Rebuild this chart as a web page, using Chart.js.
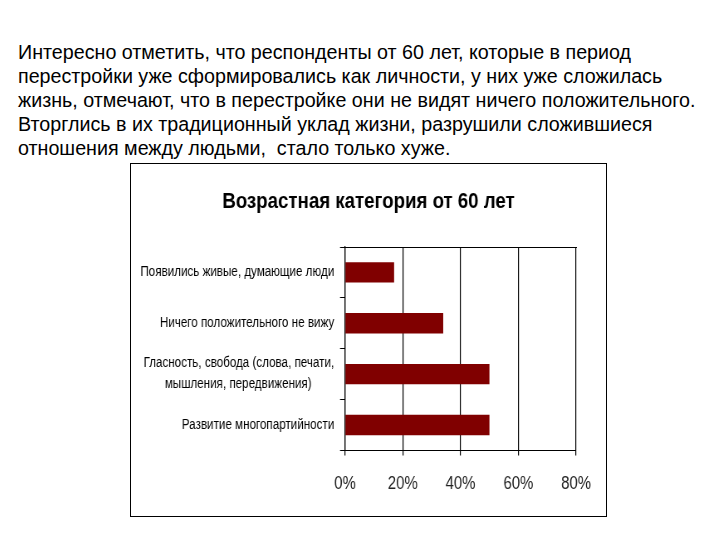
<!DOCTYPE html>
<html>
<head>
<meta charset="utf-8">
<script src="https://cdn.jsdelivr.net/npm/chart.js@4/dist/chart.umd.min.js"></script>
<style>
  html, body { margin: 0; padding: 0; background: #fff; width: 720px; height: 540px; overflow: hidden; }
  #para { position: absolute; left: 18px; top: 40px; width: 702px; font-family: "Liberation Sans", Arial, sans-serif; font-size: 19.7px; line-height: 24px; color: #000; white-space: pre; }
  #box { position: absolute; left: 130px; top: 163px; width: 475px; height: 352px; border: 1px solid #000; overflow: hidden; }
  #c { display: block; transform-origin: 0 0; transform: scaleX(0.8304); }
</style>
</head>
<body>
<div id="para">Интересно отметить, что респонденты от 60 лет, которые в период
перестройки уже сформировались как личности, у них уже сложилась
жизнь, отмечают, что в перестройке они не видят ничего положительного.
Вторглись в их традиционный уклад жизни, разрушили сложившиеся
отношения между людьми,  стало только хуже.</div>
<div id="box"><canvas id="c" width="572" height="352"></canvas></div>
<script>
const chartTitle = 'Возрастная категория от 60 лет';
const categories = [
  'Появились живые, думающие люди',
  'Ничего положительного не вижу',
  ['Гласность, свобода (слова, печати,', 'мышления, передвижения)'],
  'Развитие многопартийности'
];
const values = [17, 34, 50, 50];
const xTicks = [0, 20, 40, 60, 80];

const FONT = '"Liberation Sans", Arial, sans-serif';
const SX = 0.8304;           // horizontal compression of the chart picture
const VW = 1 / SX;           // line width that renders as 1px after compression

// centre the lines of a multi-line label under right alignment (pad with NBSP)
const measureCtx = document.createElement('canvas').getContext('2d');
measureCtx.font = '14px ' + FONT;
function centreLines(lines) {
  const widths = lines.map(l => measureCtx.measureText(l).width);
  const maxW = Math.max(...widths);
  const sp = measureCtx.measureText('\u00A0').width;
  return lines.map((l, i) => l + '\u00A0'.repeat(Math.round((maxW - widths[i]) / 2 / sp)));
}

new Chart(document.getElementById('c'), {
  type: 'bar',
  data: {
    labels: categories,
    datasets: [{
      data: values,
      backgroundColor: '#800000',
      borderWidth: 0,
      barPercentage: 0.4,
      categoryPercentage: 1.0
    }]
  },
  options: {
    indexAxis: 'y',
    responsive: false,
    animation: false,
    layout: { padding: { left: 0, right: 0, top: 0, bottom: 3 } },
    plugins: {
      legend: { display: false },
      tooltip: { enabled: false },
      title: {
        display: true,
        text: chartTitle,
        color: '#000',
        font: { family: FONT, size: 22.5, weight: 'bold' },
        padding: { top: 24, bottom: 32 }
      }
    },
    scales: {
      x: {
        type: 'linear',
        position: 'bottom',
        min: xTicks[0],
        max: xTicks[xTicks.length - 1],
        afterBuildTicks: (s) => { s.ticks = xTicks.map(v => ({ value: v })); },
        afterFit: (s) => { s.paddingRight = 36; },
        ticks: {
          color: '#222',
          font: { family: FONT, size: 18 },
          padding: 18,
          callback: (v) => v + '%'
        },
        grid: { color: '#000', lineWidth: VW, tickLength: 5 },
        border: { color: '#000', width: 1 }
      },
      x2: {
        type: 'linear',
        position: 'top',
        min: xTicks[0],
        max: xTicks[xTicks.length - 1],
        ticks: { display: false },
        grid: { display: false },
        border: { display: true, color: '#000', width: 1 },
        afterFit: (s) => { s.height = 0; }
      },
      y: {
        type: 'category',
        ticks: {
          color: '#000',
          font: { family: FONT, size: 14, lineHeight: 1.5 },
          padding: 7,
          autoSkip: false,
          callback: function (value) {
            const l = this.getLabelForValue(value);
            return Array.isArray(l) ? centreLines(l) : l;
          }
        },
        grid: { offset: true, drawOnChartArea: false, color: '#000', lineWidth: 1, tickLength: 6 },
        border: { color: '#000', width: VW },
        afterFit: (s) => { s.width = 214 / SX; }
      }
    }
  }
});
</script>
</body>
</html>
